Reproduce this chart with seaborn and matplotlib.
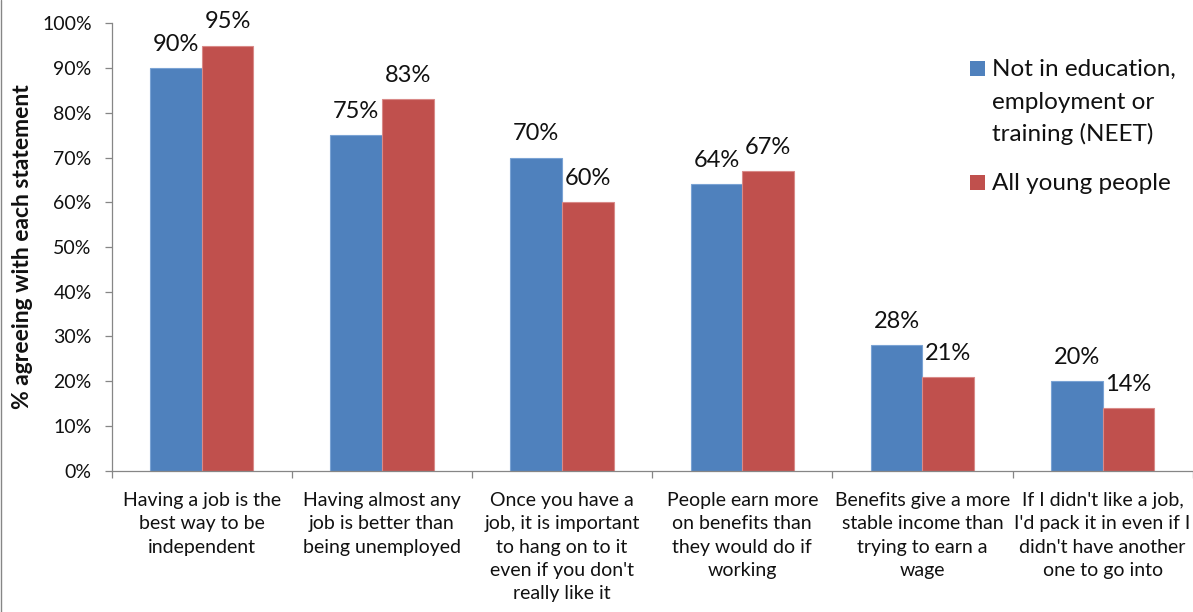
import matplotlib
matplotlib.use("Agg")
import matplotlib.pyplot as plt
import seaborn as sns
import pandas as pd
import numpy as np
from matplotlib.lines import Line2D
from matplotlib.patches import Rectangle
from matplotlib.ticker import FuncFormatter

# Survey statements (category axis)
statements = [
    "Having a job is the\nbest way to be\nindependent",
    "Having almost any\njob is better than\nbeing unemployed",
    "Once you have a\njob, it is important\nto hang on to it\neven if you don't\nreally like it",
    "People earn more\non benefits than\nthey would do if\nworking",
    "Benefits give a more\nstable income than\ntrying to earn a\nwage",
    "If I didn't like a job,\nI'd pack it in even if I\ndidn't have another\none to go into",
]

# % agreeing with each statement
neet = [90, 75, 70, 64, 28, 20]
all_young = [95, 83, 60, 67, 21, 14]

groups = ["Not in education, employment or training (NEET)", "All young people"]
legend_lines = [["Not in education,", "employment or", "training (NEET)"], ["All young people"]]
colors = ["#4F81BD", "#C0504D"]
edge_colors = ["#7AA3D4", "#D98A88"]
y_ticks = list(range(0, 101, 10))

df = pd.DataFrame({
    "statement": statements * 2,
    "group": [groups[0]] * len(statements) + [groups[1]] * len(statements),
    "pct": neet + all_young,
})

sns.set_theme(style="white")
plt.rcParams["font.family"] = ["Lato", "DejaVu Sans"]

W, H = 1193, 612
fig = plt.figure(figsize=(W / 100, H / 100), dpi=100)


def fx(x):
    return x / W


def fy(y):
    return 1 - y / H


ax = fig.add_axes([fx(111.7), fy(470.7), (1192.7 - 111.7) / W, (470.7 - 23.3) / H])

sns.barplot(
    data=df, x="statement", y="pct", hue="group",
    order=statements, hue_order=groups, palette=colors,
    width=0.574, gap=0, saturation=1, legend=False, ax=ax,
)

for container, ec, values in zip(ax.containers, edge_colors, [neet, all_young]):
    for bar in container:
        bar.set_edgecolor(ec)
        bar.set_linewidth(0.8)
    ax.bar_label(container, labels=[f"{v}%" for v in values],
                 padding=9.5, fontsize=17, color="#111111")

axis_grey = "#868686"
ax.set_ylim(0, 100)
ax.set_xlim(-0.5, len(statements) - 0.5)
ax.set_yticks(y_ticks)
ax.yaxis.set_major_formatter(FuncFormatter(lambda v, _: f"{v:.0f}%"))
ax.tick_params(axis="y", length=4.8, width=0.9, color=axis_grey, pad=9.6,
               labelsize=14, labelcolor="#111111", left=True, direction="out")

ax.set_xticks(range(len(statements)))
ax.set_xticklabels(statements, fontsize=14, linespacing=1.44, color="#111111")
ax.tick_params(axis="x", which="major", length=0, pad=15.5)
ax.set_xticks(np.arange(-0.5, len(statements), 1), minor=True)
ax.tick_params(axis="x", which="minor", length=4.8, width=0.9, color=axis_grey,
               bottom=True, direction="out")

ax.set_xlabel("")
ax.set_ylabel("")
for side in ["top", "right"]:
    ax.spines[side].set_visible(False)
for side in ["left", "bottom"]:
    ax.spines[side].set_color(axis_grey)
    ax.spines[side].set_linewidth(0.9)

fig.text(fx(23), fy(247), "% agreeing with each statement", rotation=90,
         ha="center", va="center", fontsize=16.5, fontweight="bold", color="#111111")

# Legend drawn as swatches and text lines
swatch_tops = [61, 175]
baselines = [[76, 109, 141], [189.5]]
for color, top, lines, bls in zip(colors, swatch_tops, legend_lines, baselines):
    fig.add_artist(Rectangle((fx(970), fy(top + 15)), 15 / W, 15 / H,
                             transform=fig.transFigure, facecolor=color, edgecolor="none"))
    for line, bl in zip(lines, bls):
        fig.text(fx(991.5), fy(bl), line, ha="left", va="baseline",
                 fontsize=17.5, color="#111111")

# Chart frame edge on the left
fig.add_artist(Line2D([fx(0.8), fx(0.8)], [0, 1], transform=fig.transFigure,
                      color=axis_grey, linewidth=1.0))

fig.savefig("out.png", dpi=100)
